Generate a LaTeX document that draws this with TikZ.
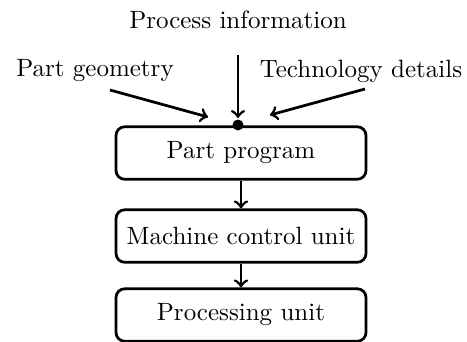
\documentclass[tikz,border=0pt]{standalone}
\begin{document}
\begin{tikzpicture}[x=0.4pt,y=-0.4pt,line width=1.1pt,
    unitbox/.style={draw,rounded corners=3.5pt,minimum width=100pt,minimum height=21pt,inner sep=0pt}]
            \useasboundingbox (0,0) rectangle (467,341);
            \node (procinfo) at (238,20) {Process information};
            \node (geom) at (95,71) {Part geometry};
            \node (tech) at (361,71) {Technology details};
            \node[unitbox] (prog) at (241,153) {Part program};
            \node[unitbox] (mcu) at (241,236) {Machine control unit};
            \node[unitbox] (proc) at (241,315) {Processing unit};
            \coordinate (geomtail) at (110,90);
            \coordinate (geomhead) at (208,117);
            \coordinate (techtail) at (365,89);
            \coordinate (techhead) at (270,115);
            \coordinate (infotail) at (238,55);
            \coordinate (infohead) at (238,118);
            \coordinate (entry) at (238,125);
            \filldraw (entry) circle (1.6pt);
            \draw[->] (geomtail) -- (geomhead);
            \draw[->] (techtail) -- (techhead);
            \draw[->] (infotail) -- (infohead);
            \draw[->] (prog) -- (mcu);
            \draw[->] (mcu) -- (proc);
        \end{tikzpicture}
\end{document}
